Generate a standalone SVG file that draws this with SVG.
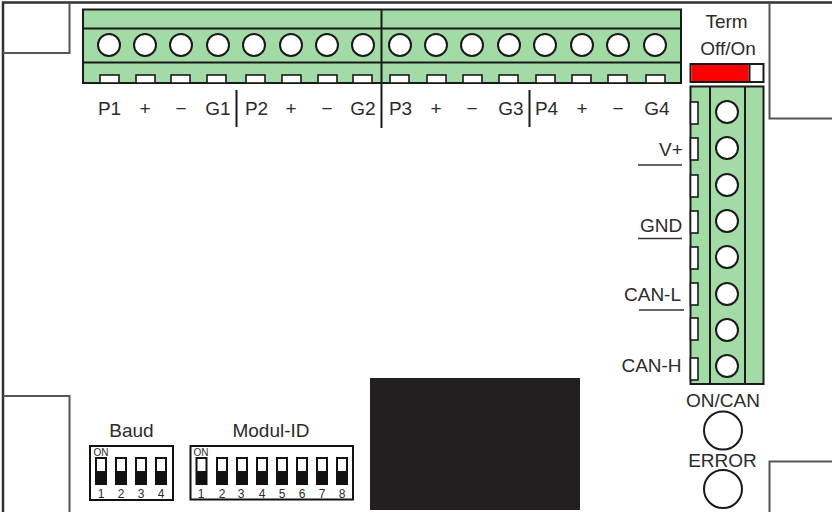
<svg xmlns="http://www.w3.org/2000/svg" width="832" height="512" viewBox="0 0 832 512">
<style>
text{font-family:"Liberation Sans",Arial,sans-serif;font-size:19px;fill:#2b2b2b;text-anchor:middle}
.g{fill:#a3dba6;stroke:#1a1a1a;stroke-width:2}
.l{stroke:#1a1a1a;stroke-width:2;fill:none}
.c{fill:#fff;stroke:#1a1a1a;stroke-width:2}
.s{fill:#fff;stroke:#1a1a1a;stroke-width:1.600}
.b{fill:none;stroke:#555;stroke-width:2}
.d{fill:#fff;stroke:#111;stroke-width:2}
.n{font-size:12px}
.on{font-size:10px}
.sw{fill:#111}
</style>
<defs>
<circle id="h" r="11" class="c"/>
<rect id="slot" width="19" height="8" class="s"/>
<rect id="vs" width="7.500" height="22" class="s"/>
<g id="dip"><rect width="10" height="26" class="d"/><rect y="13" width="10" height="13" class="sw"/></g>
</defs>
<rect width="832" height="512" fill="#fff"/>
<g id="board">
<path d="M3 512V2.500H832" fill="none" stroke="#333" stroke-width="2.500"/>
<path class="b" d="M3 53H69.500V3"/>
<path class="b" d="M769.500 3V118.500H832"/>
<path class="b" d="M3 396H69.500V512"/>
<path class="b" d="M769.500 512V461.500H832"/>
</g>
<g id="top-terminal">
<rect class="g" x="83" y="9.500" width="598" height="73.500"/>
<path class="l" d="M83 28.500H681M83 62.500H681"/>
<use href="#h" x="109" y="45"/><use href="#h" x="145" y="45"/><use href="#h" x="181" y="45"/><use href="#h" x="218" y="45"/><use href="#h" x="254" y="45"/><use href="#h" x="291" y="45"/><use href="#h" x="327" y="45"/><use href="#h" x="363" y="45"/><use href="#h" x="400" y="45"/><use href="#h" x="436" y="45"/><use href="#h" x="472" y="45"/><use href="#h" x="509" y="45"/><use href="#h" x="545" y="45"/><use href="#h" x="582" y="45"/><use href="#h" x="618" y="45"/><use href="#h" x="655" y="45"/>
<use href="#slot" x="100" y="75"/><use href="#slot" x="136" y="75"/><use href="#slot" x="171" y="75"/><use href="#slot" x="207" y="75"/><use href="#slot" x="246" y="75"/><use href="#slot" x="282" y="75"/><use href="#slot" x="318" y="75"/><use href="#slot" x="353" y="75"/><use href="#slot" x="390" y="75"/><use href="#slot" x="427" y="75"/><use href="#slot" x="463" y="75"/><use href="#slot" x="499" y="75"/><use href="#slot" x="536" y="75"/><use href="#slot" x="572" y="75"/><use href="#slot" x="608" y="75"/><use href="#slot" x="646" y="75"/>
</g>
<g id="connectors">
<path class="l" d="M381.500 9V128M236.500 90V127M529.500 90V127"/>
<path stroke="#333" stroke-width="1.600" fill="none" d="M638 165H682M638 238.500H682M639 310H684"/>
</g>
<g id="top-labels">
<text x="109.500" y="115">P1</text><text x="145" y="115">+</text><text x="181" y="115">−</text><text x="218" y="115">G1</text>
<text x="256.500" y="115">P2</text><text x="291" y="115">+</text><text x="327" y="115">−</text><text x="363" y="115">G2</text>
<text x="400.500" y="115">P3</text><text x="436" y="115">+</text><text x="472" y="115">−</text><text x="511" y="115">G3</text>
<text x="546.500" y="115">P4</text><text x="582" y="115">+</text><text x="618" y="115">−</text><text x="657" y="115">G4</text>
</g>
<g id="term-switch">
<text x="726.500" y="28">Term</text><text x="728" y="55">Off/On</text>
<rect x="690.500" y="64" width="73" height="18" fill="#fff" stroke="#1a1a1a" stroke-width="2"/>
<rect x="691.500" y="65" width="57" height="16" fill="#f00"/>
<path class="l" d="M749.500 64V82"/>
</g>
<g id="right-terminal">
<rect class="g" x="690.500" y="86.500" width="73" height="297.500"/>
<path class="l" d="M710 86V384M745 86V384"/>
<use href="#h" x="727" y="112"/><use href="#h" x="727" y="148"/><use href="#h" x="727" y="185"/><use href="#h" x="727" y="221"/><use href="#h" x="727" y="257"/><use href="#h" x="727" y="294"/><use href="#h" x="727" y="330"/><use href="#h" x="727" y="366"/>
<use href="#vs" x="690.500" y="102"/><use href="#vs" x="690.500" y="138"/><use href="#vs" x="690.500" y="175"/><use href="#vs" x="690.500" y="211"/><use href="#vs" x="690.500" y="247"/><use href="#vs" x="690.500" y="283"/><use href="#vs" x="690.500" y="318"/><use href="#vs" x="690.500" y="358"/>
</g>
<g id="right-labels">
<text x="671" y="156">V+</text><text x="661" y="232">GND</text><text x="652.500" y="301">CAN-L</text><text x="651.500" y="372">CAN-H</text>
</g>
<g id="leds">
<text x="723" y="407">ON/CAN</text>
<circle class="c" cx="723" cy="430.500" r="19"/>
<text x="722.500" y="467">ERROR</text>
<circle class="c" cx="723" cy="489" r="19"/>
</g>
<rect id="chip" x="370" y="378" width="210" height="132" fill="#231f20"/>
<g id="baud">
<text x="131.500" y="437">Baud</text>
<rect class="d" x="90" y="446" width="83" height="54"/>
<text class="on" x="101" y="456">ON</text>
<use href="#dip" x="96" y="458"/><use href="#dip" x="116" y="458"/><use href="#dip" x="136" y="458"/><use href="#dip" x="156" y="458"/>
<text class="n" x="101" y="498">1</text><text class="n" x="121" y="498">2</text><text class="n" x="141" y="498">3</text><text class="n" x="161" y="498">4</text>
</g>
<g id="modul-id">
<text x="271" y="437">Modul-ID</text>
<rect class="d" x="190.500" y="446" width="162.500" height="53.500"/>
<text class="on" x="201" y="456">ON</text>
<use href="#dip" x="196.500" y="458"/><use href="#dip" x="217" y="458"/><use href="#dip" x="237" y="458"/><use href="#dip" x="257" y="458"/><use href="#dip" x="277" y="458"/><use href="#dip" x="297" y="458"/><use href="#dip" x="317" y="458"/><use href="#dip" x="337" y="458"/>
<text class="n" x="201" y="498">1</text><text class="n" x="222" y="498">2</text><text class="n" x="241" y="498">3</text><text class="n" x="262" y="498">4</text><text class="n" x="282" y="498">5</text><text class="n" x="302" y="498">6</text><text class="n" x="322" y="498">7</text><text class="n" x="342" y="498">8</text>
</g>
</svg>
